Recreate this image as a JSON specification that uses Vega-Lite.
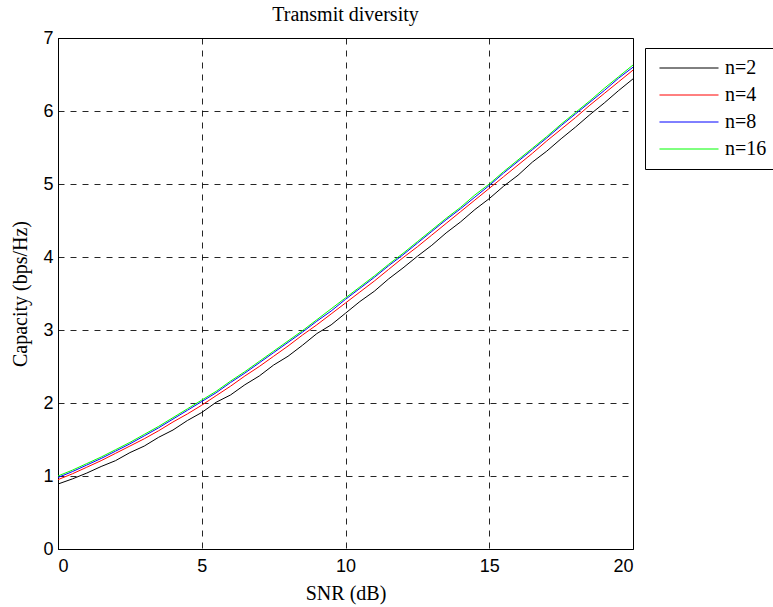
{
  "$schema": "https://vega.github.io/schema/vega-lite/v6.json",
  "width": 575,
  "height": 511,
  "autosize": {"type": "none"},
  "padding": {"left": 58, "top": 38, "right": 140, "bottom": 58},
  "background": "white",
  "title": {"text": "Transmit diversity", "font": "Liberation Serif", "fontSize": 20, "fontWeight": "normal", "color": "black", "baseline": "alphabetic", "frame": "group", "anchor": "middle", "orient": "top", "offset": 17, "dy": 29},
  "config": {
    "view": {"stroke": "black", "strokeWidth": 1},
    "axis": {
      "grid": true, "gridColor": "black", "gridDash": [6, 6], "gridOpacity": 0.85, "gridWidth": 1,
      "ticks": false, "domainColor": "black", "domainWidth": 1,
      "labelFont": "Liberation Sans", "labelFontSize": 18, "labelColor": "black",
      "titleFont": "Liberation Serif", "titleFontSize": 20, "titleFontWeight": "normal", "titleColor": "black"
    }
  },
  "data": {"values": [
    {"snr":0,"C":0.89,"n":"n=2"},{"snr":0.5,"C":0.96,"n":"n=2"},{"snr":1,"C":1.04,"n":"n=2"},{"snr":1.5,"C":1.13,"n":"n=2"},{"snr":2,"C":1.21,"n":"n=2"},{"snr":2.5,"C":1.32,"n":"n=2"},{"snr":3,"C":1.41,"n":"n=2"},{"snr":3.5,"C":1.53,"n":"n=2"},{"snr":4,"C":1.63,"n":"n=2"},{"snr":4.5,"C":1.76,"n":"n=2"},{"snr":5,"C":1.87,"n":"n=2"},{"snr":5.5,"C":2.01,"n":"n=2"},{"snr":6,"C":2.11,"n":"n=2"},{"snr":6.5,"C":2.25,"n":"n=2"},{"snr":7,"C":2.37,"n":"n=2"},{"snr":7.5,"C":2.52,"n":"n=2"},{"snr":8,"C":2.64,"n":"n=2"},{"snr":8.5,"C":2.79,"n":"n=2"},{"snr":9,"C":2.95,"n":"n=2"},{"snr":9.5,"C":3.07,"n":"n=2"},{"snr":10,"C":3.23,"n":"n=2"},{"snr":10.5,"C":3.39,"n":"n=2"},{"snr":11,"C":3.53,"n":"n=2"},{"snr":11.5,"C":3.70,"n":"n=2"},{"snr":12,"C":3.85,"n":"n=2"},{"snr":12.5,"C":4.01,"n":"n=2"},{"snr":13,"C":4.16,"n":"n=2"},{"snr":13.5,"C":4.33,"n":"n=2"},{"snr":14,"C":4.48,"n":"n=2"},{"snr":14.5,"C":4.65,"n":"n=2"},{"snr":15,"C":4.80,"n":"n=2"},{"snr":15.5,"C":4.97,"n":"n=2"},{"snr":16,"C":5.12,"n":"n=2"},{"snr":16.5,"C":5.30,"n":"n=2"},{"snr":17,"C":5.45,"n":"n=2"},{"snr":17.5,"C":5.62,"n":"n=2"},{"snr":18,"C":5.78,"n":"n=2"},{"snr":18.5,"C":5.95,"n":"n=2"},{"snr":19,"C":6.11,"n":"n=2"},{"snr":19.5,"C":6.28,"n":"n=2"},{"snr":20,"C":6.44,"n":"n=2"},
    {"snr":0,"C":0.95,"n":"n=4"},{"snr":0.5,"C":1.03,"n":"n=4"},{"snr":1,"C":1.12,"n":"n=4"},{"snr":1.5,"C":1.21,"n":"n=4"},{"snr":2,"C":1.31,"n":"n=4"},{"snr":2.5,"C":1.41,"n":"n=4"},{"snr":3,"C":1.51,"n":"n=4"},{"snr":3.5,"C":1.62,"n":"n=4"},{"snr":4,"C":1.74,"n":"n=4"},{"snr":4.5,"C":1.85,"n":"n=4"},{"snr":5,"C":1.97,"n":"n=4"},{"snr":5.5,"C":2.10,"n":"n=4"},{"snr":6,"C":2.23,"n":"n=4"},{"snr":6.5,"C":2.37,"n":"n=4"},{"snr":7,"C":2.50,"n":"n=4"},{"snr":7.5,"C":2.64,"n":"n=4"},{"snr":8,"C":2.78,"n":"n=4"},{"snr":8.5,"C":2.93,"n":"n=4"},{"snr":9,"C":3.07,"n":"n=4"},{"snr":9.5,"C":3.22,"n":"n=4"},{"snr":10,"C":3.37,"n":"n=4"},{"snr":10.5,"C":3.52,"n":"n=4"},{"snr":11,"C":3.67,"n":"n=4"},{"snr":11.5,"C":3.83,"n":"n=4"},{"snr":12,"C":3.99,"n":"n=4"},{"snr":12.5,"C":4.14,"n":"n=4"},{"snr":13,"C":4.30,"n":"n=4"},{"snr":13.5,"C":4.46,"n":"n=4"},{"snr":14,"C":4.62,"n":"n=4"},{"snr":14.5,"C":4.78,"n":"n=4"},{"snr":15,"C":4.94,"n":"n=4"},{"snr":15.5,"C":5.10,"n":"n=4"},{"snr":16,"C":5.26,"n":"n=4"},{"snr":16.5,"C":5.42,"n":"n=4"},{"snr":17,"C":5.59,"n":"n=4"},{"snr":17.5,"C":5.75,"n":"n=4"},{"snr":18,"C":5.91,"n":"n=4"},{"snr":18.5,"C":6.08,"n":"n=4"},{"snr":19,"C":6.24,"n":"n=4"},{"snr":19.5,"C":6.40,"n":"n=4"},{"snr":20,"C":6.56,"n":"n=4"},
    {"snr":0,"C":0.98,"n":"n=8"},{"snr":0.5,"C":1.06,"n":"n=8"},{"snr":1,"C":1.15,"n":"n=8"},{"snr":1.5,"C":1.24,"n":"n=8"},{"snr":2,"C":1.34,"n":"n=8"},{"snr":2.5,"C":1.44,"n":"n=8"},{"snr":3,"C":1.55,"n":"n=8"},{"snr":3.5,"C":1.66,"n":"n=8"},{"snr":4,"C":1.78,"n":"n=8"},{"snr":4.5,"C":1.90,"n":"n=8"},{"snr":5,"C":2.02,"n":"n=8"},{"snr":5.5,"C":2.14,"n":"n=8"},{"snr":6,"C":2.28,"n":"n=8"},{"snr":6.5,"C":2.41,"n":"n=8"},{"snr":7,"C":2.55,"n":"n=8"},{"snr":7.5,"C":2.69,"n":"n=8"},{"snr":8,"C":2.83,"n":"n=8"},{"snr":8.5,"C":2.97,"n":"n=8"},{"snr":9,"C":3.12,"n":"n=8"},{"snr":9.5,"C":3.26,"n":"n=8"},{"snr":10,"C":3.42,"n":"n=8"},{"snr":10.5,"C":3.57,"n":"n=8"},{"snr":11,"C":3.72,"n":"n=8"},{"snr":11.5,"C":3.88,"n":"n=8"},{"snr":12,"C":4.03,"n":"n=8"},{"snr":12.5,"C":4.19,"n":"n=8"},{"snr":13,"C":4.35,"n":"n=8"},{"snr":13.5,"C":4.51,"n":"n=8"},{"snr":14,"C":4.66,"n":"n=8"},{"snr":14.5,"C":4.82,"n":"n=8"},{"snr":15,"C":4.98,"n":"n=8"},{"snr":15.5,"C":5.15,"n":"n=8"},{"snr":16,"C":5.31,"n":"n=8"},{"snr":16.5,"C":5.47,"n":"n=8"},{"snr":17,"C":5.63,"n":"n=8"},{"snr":17.5,"C":5.80,"n":"n=8"},{"snr":18,"C":5.96,"n":"n=8"},{"snr":18.5,"C":6.12,"n":"n=8"},{"snr":19,"C":6.28,"n":"n=8"},{"snr":19.5,"C":6.45,"n":"n=8"},{"snr":20,"C":6.60,"n":"n=8"},
    {"snr":0,"C":1.00,"n":"n=16"},{"snr":0.5,"C":1.08,"n":"n=16"},{"snr":1,"C":1.17,"n":"n=16"},{"snr":1.5,"C":1.26,"n":"n=16"},{"snr":2,"C":1.36,"n":"n=16"},{"snr":2.5,"C":1.46,"n":"n=16"},{"snr":3,"C":1.57,"n":"n=16"},{"snr":3.5,"C":1.68,"n":"n=16"},{"snr":4,"C":1.80,"n":"n=16"},{"snr":4.5,"C":1.92,"n":"n=16"},{"snr":5,"C":2.04,"n":"n=16"},{"snr":5.5,"C":2.16,"n":"n=16"},{"snr":6,"C":2.30,"n":"n=16"},{"snr":6.5,"C":2.43,"n":"n=16"},{"snr":7,"C":2.57,"n":"n=16"},{"snr":7.5,"C":2.71,"n":"n=16"},{"snr":8,"C":2.85,"n":"n=16"},{"snr":8.5,"C":2.99,"n":"n=16"},{"snr":9,"C":3.14,"n":"n=16"},{"snr":9.5,"C":3.29,"n":"n=16"},{"snr":10,"C":3.44,"n":"n=16"},{"snr":10.5,"C":3.59,"n":"n=16"},{"snr":11,"C":3.74,"n":"n=16"},{"snr":11.5,"C":3.90,"n":"n=16"},{"snr":12,"C":4.05,"n":"n=16"},{"snr":12.5,"C":4.21,"n":"n=16"},{"snr":13,"C":4.37,"n":"n=16"},{"snr":13.5,"C":4.53,"n":"n=16"},{"snr":14,"C":4.68,"n":"n=16"},{"snr":14.5,"C":4.85,"n":"n=16"},{"snr":15,"C":5.00,"n":"n=16"},{"snr":15.5,"C":5.17,"n":"n=16"},{"snr":16,"C":5.33,"n":"n=16"},{"snr":16.5,"C":5.49,"n":"n=16"},{"snr":17,"C":5.65,"n":"n=16"},{"snr":17.5,"C":5.82,"n":"n=16"},{"snr":18,"C":5.98,"n":"n=16"},{"snr":18.5,"C":6.14,"n":"n=16"},{"snr":19,"C":6.31,"n":"n=16"},{"snr":19.5,"C":6.47,"n":"n=16"},{"snr":20,"C":6.63,"n":"n=16"}
  ]},
  "mark": {"type": "line", "strokeWidth": 1, "clip": true},
  "encoding": {
    "x": {"field": "snr", "type": "quantitative", "scale": {"domain": [0, 20], "nice": false, "zero": false},
          "axis": {"values": [0, 5, 10, 15, 20], "title": "SNR (dB)", "labelPadding": 8, "titleBaseline": "alphabetic", "titleY": 50, "titleAnchor": "middle"}},
    "y": {"field": "C", "type": "quantitative", "scale": {"domain": [0, 7], "nice": false},
          "axis": {"values": [0, 1, 2, 3, 4, 5, 6, 7], "title": "Capacity (bps/Hz)", "labelPadding": 5, "titleBaseline": "alphabetic", "titleX": -32, "titleAngle": -90}},
    "color": {"field": "n", "type": "nominal",
              "scale": {"domain": ["n=2", "n=4", "n=8", "n=16"], "range": ["#000000", "#ff0000", "#0000ff", "#00ff00"]},
              "legend": {"orient": "none", "legendX": 587, "legendY": 10, "title": null, "strokeColor": "black", "fillColor": "white", "padding": 10,
                         "symbolType": "M-4,0H4", "symbolSize": 218, "symbolStrokeWidth": 1, "symbolOffset": 24, "labelFont": "Liberation Serif", "labelFontSize": 20,
                         "labelColor": "black", "labelOffset": 26, "rowPadding": 7}}
  }
}
